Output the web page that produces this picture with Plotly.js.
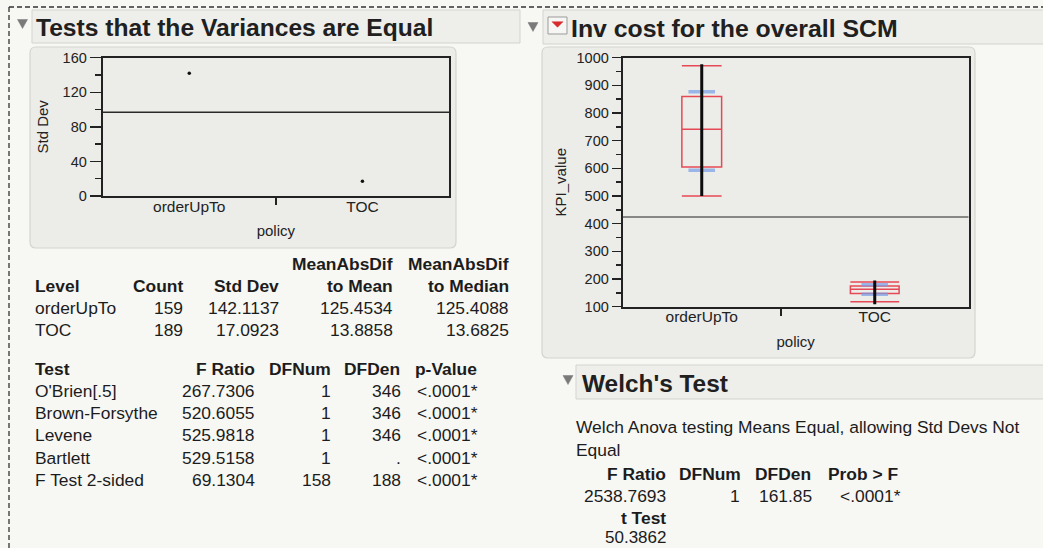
<!DOCTYPE html>
<html>
<head>
<meta charset="utf-8">
<script src="https://cdn.plot.ly/plotly-3.0.1.min.js"></script>
<style>
  html, body { margin: 0; padding: 0; background: #f7f7f4; }
  #chart { width: 1043px; height: 548px; }
</style>
</head>
<body>
<div id="chart"></div>
<script>
// ---------------- data ----------------
const policies = ['orderUpTo', 'TOC'];
const counts = [159, 189];
const stdDevs = [142.1137, 17.0923];
const madToMean = [125.4534, 13.8858];
const madToMedian = [125.4088, 13.6825];

const tests = ["O'Brien[.5]", 'Brown-Forsythe', 'Levene', 'Bartlett', 'F Test 2-sided'];
const fRatios = [267.7306, 520.6055, 525.9818, 529.5158, 69.1304];
const dfNums = ['1', '1', '1', '1', '158'];
const dfDens = ['346', '346', '346', '.', '188'];
const pValues = ['<.0001*', '<.0001*', '<.0001*', '<.0001*', '<.0001*'];

// KPI_value summaries
const kpiMin = [500, 109];
const kpiMax = [976, 195];
const kpiLowerWhisker = [500, 118];
const kpiQ1 = [605, 148];
const kpiMedian = [741, 163];
const kpiQ3 = [860, 175];
const kpiUpperWhisker = [971, 189];
const kpiMean = [735, 162.4];

const welchF = '2538.7693';
const welchDFNum = '1';
const welchDFDen = '161.85';
const welchP = '<.0001*';
const welchT = '50.3862';

// ---------------- helpers ----------------
const W = 1043, H = 548;
const FONT = 'Liberation Sans, Arial, Helvetica, sans-serif';
const X = px => px / W;
const Y = py => 1 - py / H;
const ann = [];
function txt(t, x, y, o) {
  o = o || {};
  ann.push({
    text: t, x: X(x), y: Y(y), xref: 'paper', yref: 'paper', showarrow: false,
    xanchor: o.anchor || 'left', yanchor: 'middle', borderpad: 0,
    font: { family: FONT, size: o.size || 17.4, color: o.color || '#1c1c1c' }
  });
}
const shapes = [];
function rect(x0, y0, x1, y1, fill, line) {
  shapes.push({ type: 'rect', xref: 'paper', yref: 'paper', x0: X(x0), x1: X(x1), y0: Y(y1), y1: Y(y0),
    fillcolor: fill, line: { color: line || fill, width: 1 }, layer: 'below' });
}
function tri(cx, cy, w, h, color) {
  shapes.push({ type: 'path', xref: 'paper', yref: 'paper',
    path: 'M' + X(cx - w / 2) + ',' + Y(cy - h / 2) + ' L' + X(cx + w / 2) + ',' + Y(cy - h / 2) +
      ' L' + X(cx) + ',' + Y(cy + h / 2) + ' Z',
    fillcolor: color, line: { color: color, width: 0.5 }, layer: 'below' });
}
function roundRect(x0, y0, x1, y1, r, fill, line) {
  const p = (x, y) => X(x) + ',' + Y(y);
  const path = 'M' + p(x0 + r, y0) + ' L' + p(x1 - r, y0) + ' Q' + p(x1, y0) + ' ' + p(x1, y0 + r) +
    ' L' + p(x1, y1 - r) + ' Q' + p(x1, y1) + ' ' + p(x1 - r, y1) +
    ' L' + p(x0 + r, y1) + ' Q' + p(x0, y1) + ' ' + p(x0, y1 - r) +
    ' L' + p(x0, y0 + r) + ' Q' + p(x0, y0) + ' ' + p(x0 + r, y0) + ' Z';
  shapes.push({ type: 'path', xref: 'paper', yref: 'paper', path: path, fillcolor: fill,
    line: { color: line, width: 1.2 }, layer: 'below' });
}

// dashed outer selection border
shapes.push({ type: 'line', xref: 'paper', yref: 'paper', x0: X(9), x1: X(1043), y0: Y(7), y1: Y(7),
  line: { color: '#333', width: 1.3, dash: '5px,3px' }, layer: 'below' });
shapes.push({ type: 'line', xref: 'paper', yref: 'paper', x0: X(9), x1: X(9), y0: Y(7), y1: Y(548),
  line: { color: '#333', width: 1.3, dash: '5px,3px' }, layer: 'below' });

// header bars
rect(32, 10, 520, 43, '#eeeeea', '#d3d3cf');
rect(543, 10, 1045, 44, '#eeeeea', '#d3d3cf');
rect(576, 365, 1045, 399, '#eeeeea', '#d3d3cf');
// plot frames
roundRect(30, 47, 456, 248, 6, '#ececE8', '#d4d4d0');
roundRect(542, 47, 975, 358, 6, '#ececE8', '#d4d4d0');
// disclosure triangles
tri(22.5, 24, 10, 9, '#7a7a7a');
tri(533, 27, 10, 9, '#7a7a7a');
tri(568, 380, 10, 9, '#7a7a7a');
// red dropdown icon
rect(548, 17, 567, 34, '#f6f6f4', '#9b9b9b');
tri(557.5, 24.5, 11, 5.5, '#d92b2b');

// titles
txt('<b>Tests that the Variances are Equal</b>', 35, 27.5, { size: 24.6, color: '#202020' });
txt('<b>Inv cost for the overall SCM</b>', 570, 28.5, { size: 24.8, color: '#202020' });
txt("<b>Welch's Test</b>", 581, 383, { size: 24.4, color: '#202020' });

// Levels table
txt('<b>MeanAbsDif</b>', 394, 263.5, { anchor: 'right' });
txt('<b>MeanAbsDif</b>', 510, 263.5, { anchor: 'right' });
txt('<b>Level</b>', 34, 285.5);
txt('<b>Count</b>', 184, 285.5, { anchor: 'right' });
txt('<b>Std Dev</b>', 280, 285.5, { anchor: 'right' });
txt('<b>to Mean</b>', 394, 285.5, { anchor: 'right' });
txt('<b>to Median</b>', 510, 285.5, { anchor: 'right' });
policies.forEach((p, i) => {
  const y = 307.8 + i * 22.5;
  txt(p, 34, y);
  txt(String(counts[i]), 184, y, { anchor: 'right' });
  txt(stdDevs[i].toFixed(4), 280, y, { anchor: 'right' });
  txt(madToMean[i].toFixed(4), 394, y, { anchor: 'right' });
  txt(madToMedian[i].toFixed(4), 510, y, { anchor: 'right' });
});

// Tests table
txt('<b>Test</b>', 34, 368.8);
txt('<b>F Ratio</b>', 256, 368.8, { anchor: 'right' });
txt('<b>DFNum</b>', 331.5, 368.8, { anchor: 'right' });
txt('<b>DFDen</b>', 401, 368.8, { anchor: 'right' });
txt('<b>p-Value</b>', 414, 368.8);
tests.forEach((t, i) => {
  const y = 391 + i * 22.2;
  txt(t, 34, y);
  txt(fRatios[i].toFixed(4), 256, y, { anchor: 'right' });
  txt(dfNums[i], 331.5, y, { anchor: 'right' });
  txt(dfDens[i], 401.5, y, { anchor: 'right' });
  txt(pValues[i], 416, y);
});

// Welch table
txt('Welch Anova testing Means Equal, allowing Std Devs Not', 575, 427);
txt('Equal', 575, 449.5);
txt('<b>F Ratio</b>', 667, 473.5, { anchor: 'right' });
txt('<b>DFNum</b>', 742, 473.5, { anchor: 'right' });
txt('<b>DFDen</b>', 811.5, 473.5, { anchor: 'right' });
txt('<b>Prob > F</b>', 899, 473.5, { anchor: 'right' });
txt(welchF, 667, 495.5, { anchor: 'right' });
txt(welchDFNum, 741, 495.5, { anchor: 'right' });
txt(welchDFDen, 812.5, 495.5, { anchor: 'right' });
txt(welchP, 902, 495.5, { anchor: 'right' });
txt('<b>t Test</b>', 667, 517.5, { anchor: 'right' });
txt(welchT, 667, 537.5, { anchor: 'right', size: 17 });

// ---------------- derived statistics ----------------
const dfTot = counts.reduce((a, n) => a + (n - 1), 0);
const pooledSD = Math.sqrt(counts.reduce((a, n, i) => a + (n - 1) * stdDevs[i] * stdDevs[i], 0) / dfTot);
const nTot = counts.reduce((a, n) => a + n, 0);
const grandMean = counts.reduce((a, n, i) => a + n * kpiMean[i], 0) / nTot;
let cum = 0;
const centers = counts.map(n => { const c = cum + n / 2; cum += n; return c; });
const boundaries = counts.slice(0, -1).map((n, i) => counts.slice(0, i + 1).reduce((a, b) => a + b, 0));

// ---------------- traces ----------------
const traces = [];
// left: std dev plot
traces.push({ type: 'scatter', mode: 'lines', x: [-0.5, 1.5], y: [pooledSD, pooledSD], xaxis: 'x', yaxis: 'y',
  line: { color: '#2a2a2a', width: 1.4 }, hoverinfo: 'skip', showlegend: false });
traces.push({ type: 'scatter', mode: 'markers', x: [0, 1], y: stdDevs, xaxis: 'x', yaxis: 'y',
  marker: { color: '#111', size: 3.5 }, showlegend: false });

// right: box plot
traces.push({ type: 'scatter', mode: 'lines', x: [0, nTot], y: [grandMean, grandMean], xaxis: 'x2', yaxis: 'y2',
  line: { color: '#666', width: 1.4 }, hoverinfo: 'skip', showlegend: false });
// mean +/- std dev markers
traces.push({ type: 'scatter', mode: 'markers', xaxis: 'x2', yaxis: 'y2', showlegend: false,
  x: centers.concat(centers),
  y: kpiMean.map((m, i) => m + stdDevs[i]).concat(kpiMean.map((m, i) => m - stdDevs[i])),
  marker: { symbol: 'line-ew', size: 19, line: { width: 3.5, color: 'rgba(120,158,232,0.7)' } } });
const boxWidths = [40, 49];
policies.forEach((p, i) => {
  traces.push({ type: 'box', xaxis: 'x2', yaxis: 'y2', name: p, showlegend: false,
    x: [centers[i]], q1: [kpiQ1[i]], median: [kpiMedian[i]], q3: [kpiQ3[i]],
    lowerfence: [kpiLowerWhisker[i]], upperfence: [kpiUpperWhisker[i]],
    width: boxWidths[i], whiskerwidth: 1, boxpoints: false,
    line: { color: '#e64856', width: 1.5 }, fillcolor: 'rgba(0,0,0,0)' });
});
// data points (range of observations)
policies.forEach((p, i) => {
  traces.push({ type: 'scatter', mode: 'lines', xaxis: 'x2', yaxis: 'y2', showlegend: false,
    x: [centers[i], centers[i]], y: [kpiMin[i], kpiMax[i]],
    line: { color: '#0c0c0c', width: 3 } });
});

const axisFont = { family: FONT, size: 15, color: '#222' };
const tickFont = { family: FONT, size: 14.5, color: '#222' };
const common = { showline: true, mirror: true, linecolor: '#222', linewidth: 2, showgrid: false,
  zeroline: false, fixedrange: true };

const layout = {
  width: W, height: H, margin: { l: 0, r: 0, t: 0, b: 0 },
  paper_bgcolor: '#f7f7f4', plot_bgcolor: '#f5f5f5',
  showlegend: false, boxmode: 'overlay',
  shapes: shapes, annotations: ann,
  xaxis: Object.assign({}, common, {
    domain: [X(102.7), X(449)], anchor: 'y', range: [-0.5, 1.5],
    tickvals: [0, 1], ticktext: policies, ticks: '', ticklabelstandoff: -5,
    tickfont: Object.assign({}, axisFont, { size: 15.5 }),
    minor: { tickvals: [0.5], ticks: 'outside', ticklen: 7, tickwidth: 2, tickcolor: '#222' },
    title: { text: 'policy', font: axisFont, standoff: 12 }
  }),
  yaxis: Object.assign({}, common, {
    domain: [Y(196), Y(57.7)], anchor: 'x', range: [0, 160], tick0: 0, dtick: 40,
    ticks: 'outside', ticklen: 11, tickwidth: 1.5, tickcolor: '#222', tickfont: tickFont,
    minor: { dtick: 20, ticks: 'outside', ticklen: 6, tickwidth: 1.5, tickcolor: '#222' },
    title: { text: 'Std Dev', font: axisFont, standoff: 10 }
  }),
  xaxis2: Object.assign({}, common, {
    domain: [X(622.7), X(968.7)], anchor: 'y2', range: [0, nTot],
    tickvals: centers, ticktext: policies, ticks: '', ticklabelstandoff: -5,
    tickfont: Object.assign({}, axisFont, { size: 15.5 }),
    minor: { tickvals: boundaries, ticks: 'outside', ticklen: 7, tickwidth: 2, tickcolor: '#222' },
    title: { text: 'policy', font: axisFont, standoff: 12 }
  }),
  yaxis2: Object.assign({}, common, {
    domain: [Y(306.7), Y(57.7)], anchor: 'x2', range: [100, 1000], tick0: 0, dtick: 100,
    ticks: 'outside', ticklen: 9, tickwidth: 1.5, tickcolor: '#222', tickfont: tickFont,
    minor: { dtick: 50, ticks: 'outside', ticklen: 5, tickwidth: 1.5, tickcolor: '#222' },
    title: { text: 'KPI_value', font: axisFont, standoff: 6 }
  })
};

Plotly.newPlot('chart', traces, layout, { displayModeBar: false, staticPlot: true });
</script>
</body>
</html>
